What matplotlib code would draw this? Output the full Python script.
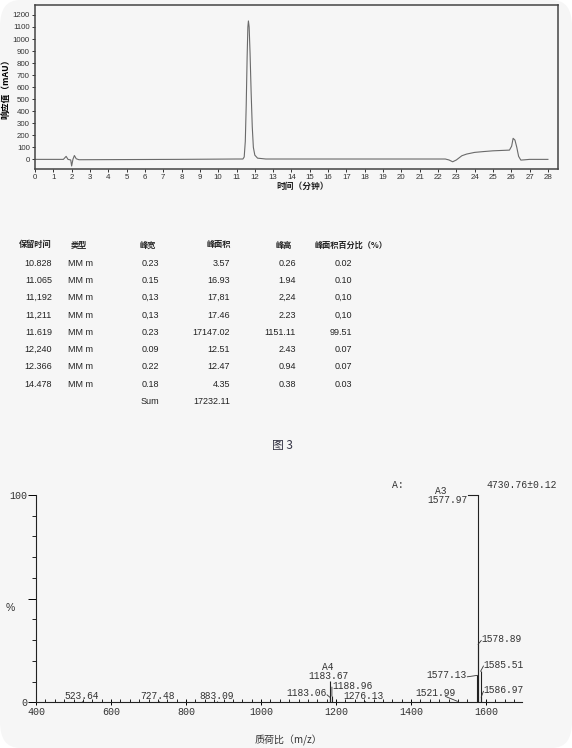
import numpy as np
import matplotlib
matplotlib.use('Agg')
import matplotlib.pyplot as plt
from matplotlib.patches import FancyBboxPatch
from matplotlib.ticker import MultipleLocator, FixedLocator

CJK = ['Noto Sans CJK SC', 'DejaVu Sans']

# chromatogram trace (minutes, mAU)
trace_t = [0, 0.7, 1.55, 1.7, 1.8, 1.95, 2.0, 2.07, 2.15, 2.25, 2.4, 7.8, 11.0, 11.35,
           11.42, 11.48, 11.53, 11.58, 11.62, 11.65, 11.69, 11.74, 11.80, 11.86, 11.92,
           12.0, 12.15, 12.6, 22.4, 22.6, 22.8, 23.0, 23.3, 23.56, 24.0, 24.5, 25.0, 25.9,
           26.02, 26.1, 26.2, 26.3, 26.4, 26.52, 26.7, 27.0, 28.0]
trace_y = [0, 0, 0, 25, 0, -5, -55, 0, 32, 5, -3, 0, 3, 3,
           20, 150, 450, 850, 1100, 1150, 1100, 880, 550, 270, 100,
           35, 10, 3, 3, -5, -20, -5, 30, 44, 58, 65, 71, 77,
           110, 175, 160, 100, 25, -6, -4, 0, 0]

# peak table
tbl_header = ['保留时间', '类型', '峰宽', '峰面积', '峰高', '峰面积百分比（%）']
ret_time = ['10.828', '11.065', '11,192', '11,211', '11.619', '12,240', '12.366', '14.478']
peak_type = ['MM m'] * 8
peak_width = ['0.23', '0.15', '0,13', '0,13', '0.23', '0.09', '0.22', '0.18']
peak_area = ['3.57', '16.93', '17,81', '17.46', '17147.02', '12.51', '12.47', '4.35']
peak_height = ['0.26', '1.94', '2,24', '2.23', '1151.11', '2.43', '0.94', '0.38']
area_pct = ['0.02', '0.10', '0,10', '0,10', '99.51', '0.07', '0.07', '0.03']
area_sum = '17232.11'

# mass spectrum sticks (m/z, relative %)
ms_mz = [523.64, 727.48, 883.09, 1183.06, 1183.67, 1188.96, 1276.13, 1521.99,
         1577.13, 1577.97, 1578.89, 1585.51, 1586.97]
ms_int = [0.5, 0.5, 0.5, 2.5, 10.5, 3.0, 0.4, 0.6, 13, 100, 28, 15, 2.5]

W, H = 572, 748
fig = plt.figure(figsize=(W / 100, H / 100), dpi=100)
fig.patch.set_facecolor('white')
fig.patches.append(FancyBboxPatch((0.0, 0.0), 1.0, 1.0, boxstyle='round,pad=0,rounding_size=0.035',
                                  transform=fig.transFigure, facecolor='#f6f6f6',
                                  edgecolor='none', zorder=-10))


def px(x, y):
    return x / W, 1 - y / H


# ---------- chromatogram ----------
ax1 = fig.add_axes([35 / W, 1 - 169 / H, (558 - 35) / W, (169 - 5.3) / H])
ax1.set_facecolor('none')
ax1.plot(trace_t, trace_y, color='#6a6a6a', lw=0.8)
ax1.set_xlim(0, 28.55)
ax1.set_ylim(-80, 1280)
ax1.xaxis.set_major_locator(MultipleLocator(1))
ax1.yaxis.set_major_locator(FixedLocator(range(0, 1201, 100)))
for s in ax1.spines.values():
    s.set_color('#444444')
    s.set_linewidth(1.1)
ax1.tick_params(labelsize=5.7, length=2.5, width=0.7, pad=1.2, colors='#333333')
for lab in ax1.get_xticklabels() + ax1.get_yticklabels():
    lab.set_family('Liberation Sans')
ax1.set_ylabel('响应值（mAU）', family=CJK, fontsize=6.3, fontweight='bold', labelpad=2)
fig.text(*px(303, 186), '时间（分钟）', family=CJK, fontsize=6.3, fontweight='bold',
         ha='center', va='center', color='#222222')

# ---------- peak table ----------
head_x = [35, 79, 148, 219, 284]
for hx, h in zip(head_x, tbl_header[:5]):
    fig.text(*px(hx, 245), h, family=CJK, fontsize=5.9, fontweight='bold',
             ha='center', va='center', color='#222222')
fig.text(*px(315, 245), tbl_header[5], family=CJK, fontsize=5.9, fontweight='bold',
         ha='left', va='center', color='#222222')

row_y0, row_dy = 263.3, 17.25
cols = [(ret_time, 52, 'right'), (peak_type, 68, 'left'), (peak_width, 159, 'right'),
        (peak_area, 230, 'right'), (peak_height, 296, 'right'), (area_pct, 352, 'right')]
for vals, cx, ha in cols:
    for i, v in enumerate(vals):
        fig.text(*px(cx, row_y0 + i * row_dy), v, family='Liberation Sans', fontsize=6.5,
                 ha=ha, va='center', color='#222222')
sum_y = row_y0 + len(ret_time) * row_dy
fig.text(*px(159, sum_y), 'Sum', family='Liberation Sans', fontsize=6.5, ha='right',
         va='center', color='#222222')
fig.text(*px(230, sum_y), area_sum, family='Liberation Sans', fontsize=6.5, ha='right',
         va='center', color='#222222')

fig.text(*px(282, 445), '图 3', family=CJK, fontsize=8.5, ha='center', va='center',
         color='#333344')

# ---------- mass spectrum ----------
ax2 = fig.add_axes([36 / W, 1 - 702.3 / H, (521.7 - 36) / W, (702.3 - 495) / H])
ax2.set_facecolor('none')
ax2.vlines(ms_mz, 0, ms_int, color='#222222', lw=0.8)
ax2.set_xlim(400, 1695)
ax2.set_ylim(0, 100)
for side in ['top', 'right']:
    ax2.spines[side].set_visible(False)
for side in ['left', 'bottom']:
    ax2.spines[side].set_color('#222222')
    ax2.spines[side].set_linewidth(0.8)
ax2.xaxis.set_major_locator(FixedLocator(range(400, 1601, 200)))
ax2.xaxis.set_minor_locator(MultipleLocator(25))
ax2.yaxis.set_major_locator(FixedLocator([0, 50, 100]))
ax2.yaxis.set_minor_locator(MultipleLocator(10))
ax2.set_yticklabels(['0', '', '100'])
mono = 'Liberation Mono'
ax2.tick_params(axis='x', which='major', direction='inout', length=5, width=0.7,
                labelsize=7.2, pad=1, labelcolor='#333333')
ax2.tick_params(axis='x', which='minor', direction='in', length=2.5, width=0.6)
ax2.tick_params(axis='y', which='major', length=6, width=0.7, labelsize=7.2, pad=0.5,
                labelcolor='#333333')
ax2.tick_params(axis='y', which='minor', length=3, width=0.6)
for lab in ax2.get_xticklabels() + ax2.get_yticklabels():
    lab.set_family(mono)
fig.text(*px(10, 608), '%', family='Liberation Sans', fontsize=7.5, ha='center', va='center',
         color='#333333')
fig.text(*px(288, 740), '质荷比（m/z）', family=CJK, fontsize=7.2, ha='center', va='center',
         color='#333333')
fig.text(*px(398, 485), 'A:', family=mono, fontsize=7, ha='center', va='center',
         color='#333333')
fig.text(*px(557, 485), '4730.76±0.12', family=mono, fontsize=7, ha='right',
         va='center', color='#333333')

# label layout: (peak index, text x, text y, ha, leader)
ms_labels = [
    (0, 522, 0.4, 'center', False),
    (1, 725, 0.4, 'center', False),
    (2, 882, 0.4, 'center', False),
    (3, 1175, 4.3, 'right', True),
    (5, 1190, 8.0, 'left', True),
    (6, 1273, 0.4, 'center', False),
    (7, 1464, 4.6, 'center', True),
    (8, 1549, 13.0, 'right', True),
    (10, 1588, 30.5, 'left', True),
    (11, 1594, 18.2, 'left', True),
    (12, 1594, 6.0, 'left', True),
]
lab_kw = dict(family=mono, fontsize=6.9, color='#333333', clip_on=False)
for idx, tx, ty, ha, lead in ms_labels:
    va = 'bottom' if not lead and ty < 1 else 'center'
    ax2.text(tx, ty, f'{ms_mz[idx]:.2f}', ha=ha, va=va, **lab_kw)
    if lead:
        if ha == 'right':
            ex = tx + 1
        elif ha == 'left':
            ex = tx - 1
        else:
            ex = tx + 28
        ey = ty - 1.8 if ha == 'center' else ty - 0.7
        ax2.plot([ms_mz[idx], ex], [ms_int[idx], ey], color='#333333', lw=0.6,
                 clip_on=False)

# A4 / A3 labels
ax2.text(1179, 12.6, f'{ms_mz[4]:.2f}', ha='center', va='center', **lab_kw)
ax2.text(1179, 16.9, 'A4', ha='center', va='center', **lab_kw)
ax2.text(1550, 97.4, f'{ms_mz[9]:.2f}', ha='right', va='center', **lab_kw)
ax2.text(1480, 101.7, 'A3', ha='center', va='center', **lab_kw)
ax2.plot([1551, ms_mz[9]], [ms_int[9], ms_int[9]], color='#222222', lw=0.8, clip_on=False)

fig.savefig('out.png', dpi=100, facecolor=fig.get_facecolor())
